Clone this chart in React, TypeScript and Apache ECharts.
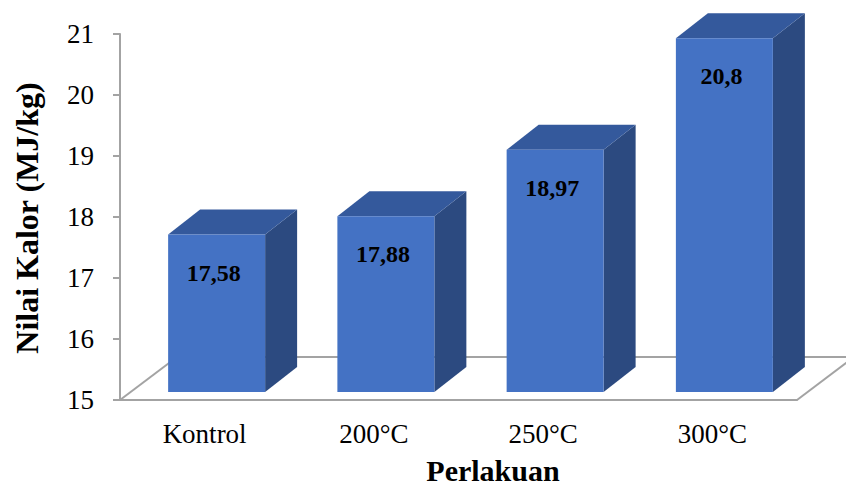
import React, { useEffect, useRef } from "react";
import * as echarts from "echarts";

const categories = ["Kontrol", "200°C", "250°C", "300°C"];
const values = [17.58, 17.88, 18.97, 20.8];
const valueLabels = ["17,58", "17,88", "18,97", "20,8"];
const yTicks = [15, 16, 17, 18, 19, 20, 21];
const yTitle = "Nilai Kalor (MJ/kg)";
const xTitle = "Perlakuan";

const FONT = "'Times New Roman', 'Liberation Serif', serif";
const AXIS_COLOR = "#a3a3a3";
const FRONT = "#4472C4";
const TOP = "#34599C";
const SIDE = "#2C4A80";

export default function App() {
  const ref = useRef<HTMLDivElement>(null);
  useEffect(() => {
    const chart = echarts.init(ref.current!, null, { renderer: "svg" });
    const FRONT_DX = 12;
    const FRONT_DY = -8;
    const DEPTH_DX = 32;
    const DEPTH_DY = -25;
    const FLOOR_DX = 57;
    const FLOOR_DY = -43;

    const floorRender = (params: any, api: any) => {
      const cs = params.coordSys;
      const x0 = cs.x;
      const x1 = cs.x + cs.width;
      const yb = cs.y + cs.height;
      const ls = { stroke: AXIS_COLOR, lineWidth: 2, fill: null };
      return {
        type: "group",
        children: [
          { type: "line", shape: { x1: x0, y1: yb, x2: x0 + FLOOR_DX, y2: yb + FLOOR_DY }, style: ls },
          { type: "line", shape: { x1: x0 + FLOOR_DX, y1: yb + FLOOR_DY, x2: x1 + FLOOR_DX, y2: yb + FLOOR_DY }, style: ls },
          { type: "line", shape: { x1: x1, y1: yb, x2: x1 + FLOOR_DX, y2: yb + FLOOR_DY }, style: ls },
        ],
      };
    };

    const barRender = (params: any, api: any) => {
      const i = api.value(0);
      const v = api.value(1);
      const top = api.coord([i, v]);
      const base = api.coord([i, yTicks[0]]);
      const bw = api.size([1, 0])[0] * 0.573;
      const L = top[0] + FRONT_DX - bw / 2;
      const R = L + bw;
      const T = top[1] + FRONT_DY;
      const B = base[1] + FRONT_DY;
      return {
        type: "group",
        children: [
          {
            type: "polygon",
            shape: { points: [[R, T], [R + DEPTH_DX, T + DEPTH_DY], [R + DEPTH_DX, B + DEPTH_DY], [R, B]] },
            style: { fill: SIDE },
          },
          {
            type: "polygon",
            shape: { points: [[L, T], [L + DEPTH_DX, T + DEPTH_DY], [R + DEPTH_DX, T + DEPTH_DY], [R, T]] },
            style: { fill: TOP },
          },
          {
            type: "rect",
            shape: { x: L, y: T, width: bw, height: B - T },
            style: { fill: FRONT },
          },
          {
            type: "text",
            x: L + bw / 2 - 3,
            y: T + 38,
            style: {
              text: valueLabels[params.dataIndex],
              fill: "#000",
              fontFamily: FONT,
              fontWeight: "bold",
              fontSize: 24,
              align: "center",
              verticalAlign: "middle",
            },
          },
        ],
      };
    };

    chart.setOption({
      animation: false,
      grid: { left: 120, right: 49, top: 34, bottom: 88, outerBoundsMode: "none" },
      xAxis: {
        type: "category",
        data: categories,
        axisLine: { show: true, lineStyle: { color: AXIS_COLOR, width: 2 } },
        axisTick: { show: false },
        axisLabel: { color: "#000", fontFamily: FONT, fontSize: 27, margin: 20 },
      },
      yAxis: {
        type: "value",
        min: yTicks[0],
        max: yTicks[yTicks.length - 1],
        interval: 1,
        axisLine: { show: true, lineStyle: { color: AXIS_COLOR, width: 2 } },
        axisTick: { show: true, length: 7, lineStyle: { color: AXIS_COLOR, width: 2 } },
        splitLine: { show: false },
        axisLabel: { color: "#000", fontFamily: FONT, fontSize: 27, margin: 26 },
      },
      series: [
        { type: "custom", data: [[0, yTicks[0]]], encode: { x: 0, y: 1 }, z: 1, renderItem: floorRender, silent: true },
        {
          type: "custom",
          data: values.map((v, i) => [i, v]),
          encode: { x: 0, y: 1 },
          z: 2,
          renderItem: barRender,
        },
      ],
      graphic: [
        {
          type: "text",
          x: 27,
          y: 218,
          rotation: Math.PI / 2,
          style: {
            text: yTitle,
            fill: "#000",
            fontFamily: FONT,
            fontWeight: "bold",
            fontSize: 32,
            align: "center",
            verticalAlign: "middle",
          },
        },
        {
          type: "text",
          x: 493,
          y: 470,
          style: {
            text: xTitle,
            fill: "#000",
            fontFamily: FONT,
            fontWeight: "bold",
            fontSize: 30,
            align: "center",
            verticalAlign: "middle",
          },
        },
      ],
    });
    return () => chart.dispose();
  }, []);
  return (
    <div
      ref={ref}
      style={{ position: "fixed", left: 0, top: 0, width: 846, height: 488, background: "#fff" }}
    />
  );
}
